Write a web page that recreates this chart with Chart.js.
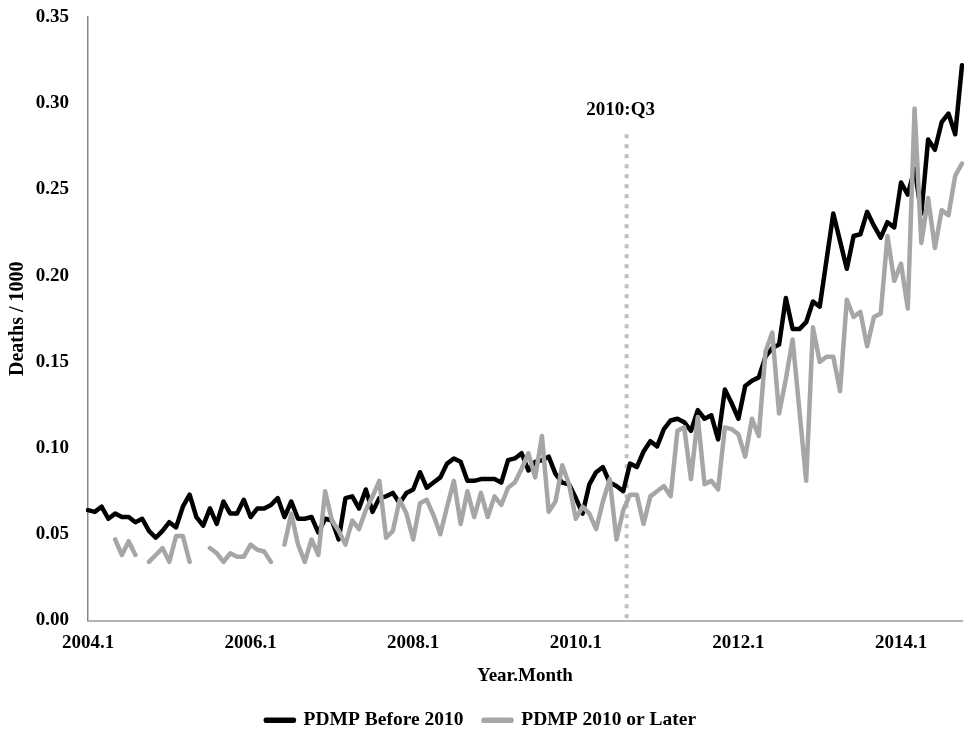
<!DOCTYPE html>
<html>
<head>
<meta charset="utf-8">
<script src="https://cdn.jsdelivr.net/npm/chart.js@4/dist/chart.umd.min.js"></script>
<style>
html,body{margin:0;padding:0;background:#fff;overflow:hidden}
#wrap{width:964px;height:734px;overflow:hidden;position:relative}
canvas{display:block}
</style>
</head>
<body>
<div id="wrap"><canvas id="c" width="964" height="740"></canvas></div>
<script>
// ---- categories ----
const years = [2004, 2005, 2006, 2007, 2008, 2009, 2010, 2011, 2012, 2013, 2014];
const months = [1, 2, 3, 4, 5, 6, 7, 8, 9, 10, 11, 12];
const lastMonthOfLastYear = 10;
const categories = [];
years.forEach(y => months.forEach(m => {
  if (y === years[years.length - 1] && m > lastMonthOfLastYear) return;
  categories.push(y + '.' + m);
}));
const tickLabels = ['2004.1', '2006.1', '2008.1', '2010.1', '2012.1', '2014.1'];
const yTicks = [0, 0.05, 0.10, 0.15, 0.20, 0.25, 0.30, 0.35];

// ---- series (Deaths / 1000) ----
const pdmpBefore2010 = [
  0.064, 0.063, 0.066, 0.059, 0.062, 0.060, 0.060, 0.057, 0.059, 0.052,
  0.048, 0.052, 0.057, 0.054, 0.066, 0.073, 0.060, 0.055, 0.065, 0.056,
  0.069, 0.062, 0.062, 0.070, 0.060, 0.065, 0.065, 0.067, 0.071, 0.060,
  0.069, 0.059, 0.059, 0.060, 0.051, 0.059, 0.058, 0.047, 0.071, 0.072,
  0.065, 0.076, 0.063, 0.071, 0.072, 0.074, 0.068, 0.074, 0.076, 0.086,
  0.077, 0.080, 0.083, 0.091, 0.094, 0.092, 0.081, 0.081, 0.082, 0.082,
  0.082, 0.080, 0.093, 0.094, 0.097, 0.087, 0.092, 0.093, 0.095, 0.085,
  0.080, 0.079, 0.071, 0.062, 0.079, 0.086, 0.089, 0.080, 0.078, 0.075,
  0.091, 0.089, 0.098, 0.104, 0.101, 0.111, 0.116, 0.117, 0.115, 0.110,
  0.122, 0.117, 0.119, 0.105, 0.134, 0.126, 0.117, 0.136, 0.139, 0.141,
  0.153, 0.158, 0.160, 0.187, 0.169, 0.169, 0.173, 0.185, 0.182, 0.209,
  0.236, 0.220, 0.204, 0.223, 0.224, 0.237, 0.229, 0.222, 0.231, 0.228,
  0.254, 0.247, 0.262, 0.236, 0.279, 0.273, 0.289, 0.294, 0.282, 0.322
];
const pdmp2010OrLater = [
  null, null, null, null, 0.047, 0.038, 0.046, 0.038, null, 0.034,
  0.038, 0.042, 0.034, 0.049, 0.049, 0.034, null, null, 0.042, 0.039,
  0.034, 0.039, 0.037, 0.037, 0.044, 0.041, 0.040, 0.034, null, 0.044,
  0.062, 0.044, 0.034, 0.047, 0.038, 0.075, 0.058, 0.052, 0.044, 0.058,
  0.053, 0.064, 0.072, 0.081, 0.048, 0.052, 0.070, 0.062, 0.047, 0.068,
  0.070, 0.061, 0.050, 0.066, 0.081, 0.056, 0.075, 0.060, 0.074, 0.060,
  0.072, 0.067, 0.077, 0.080, 0.088, 0.097, 0.083, 0.107, 0.063, 0.069,
  0.090, 0.079, 0.059, 0.066, 0.062, 0.053, 0.069, 0.082, 0.047, 0.064,
  0.073, 0.073, 0.056, 0.072, 0.075, 0.078, 0.072, 0.110, 0.112, 0.082,
  0.118, 0.079, 0.081, 0.076, 0.112, 0.111, 0.108, 0.095, 0.117, 0.107,
  0.156, 0.167, 0.120, 0.140, 0.163, 0.122, 0.081, 0.170, 0.150, 0.153,
  0.153, 0.133, 0.186, 0.176, 0.179, 0.159, 0.176, 0.178, 0.223, 0.197,
  0.207, 0.181, 0.297, 0.219, 0.245, 0.216, 0.238, 0.235, 0.258, 0.265
];

// ---- marker ----
const markerBetween = ['2010.8', '2010.9'];
const markerLabel = '2010:Q3';
const markerTopValue = 0.282;

const FONT = "'Liberation Serif', 'Times New Roman', serif";

const markerPlugin = {
  id: 'marker',
  beforeDatasetsDraw(chart) {
    const {ctx, scales: {x, y}} = chart;
    const a = x.getPixelForValue(categories.indexOf(markerBetween[0]));
    const b = x.getPixelForValue(categories.indexOf(markerBetween[1]));
    const px = (a + b) / 2;
    const top = y.getPixelForValue(markerTopValue);
    const bottom = y.getPixelForValue(0);
    ctx.save();
    ctx.strokeStyle = '#bfbfbf';
    ctx.lineWidth = 4;
    ctx.setLineDash([4, 6]);
    ctx.beginPath();
    ctx.moveTo(px, top);
    ctx.lineTo(px, bottom);
    ctx.stroke();
    ctx.setLineDash([]);
    ctx.fillStyle = '#000';
    ctx.font = 'bold 19px ' + FONT;
    ctx.textAlign = 'center';
    ctx.textBaseline = 'middle';
    ctx.fillText(markerLabel, px - 6, top - 24);
    ctx.restore();
  }
};

new Chart(document.getElementById('c'), {
  type: 'line',
  data: {
    labels: categories,
    datasets: [
      {
        label: 'PDMP Before 2010',
        data: pdmpBefore2010,
        borderColor: '#000000',
        backgroundColor: '#000000',
        borderWidth: 4.5,
        pointRadius: 0,
        tension: 0,
        borderJoinStyle: 'round',
        borderCapStyle: 'round',
        order: 1
      },
      {
        label: 'PDMP 2010 or Later',
        data: pdmp2010OrLater,
        borderColor: '#a6a6a6',
        backgroundColor: '#a6a6a6',
        borderWidth: 4.5,
        pointRadius: 0,
        tension: 0,
        spanGaps: false,
        borderJoinStyle: 'round',
        borderCapStyle: 'round',
        order: 0
      }
    ]
  },
  options: {
    responsive: false,
    animation: false,
    devicePixelRatio: 1,
    layout: {padding: {top: 17, right: 2, left: 0, bottom: 0}},
    plugins: {
      tooltip: {enabled: false},
      legend: {
        position: 'bottom',
        labels: {
          boxWidth: 28,
          boxHeight: 1,
          padding: 20,
          color: '#000',
          font: {family: FONT, size: 19.5, weight: 'bold'},
          sort: (a, b) => a.datasetIndex - b.datasetIndex
        }
      }
    },
    scales: {
      x: {
        type: 'category',
        offset: false,
        grid: {display: false, drawTicks: false},
        border: {display: true, color: '#b3b3b3', width: 2},
        ticks: {
          autoSkip: false,
          maxRotation: 0,
          minRotation: 0,
          padding: 11,
          color: '#000',
          font: {family: FONT, size: 19, weight: 'bold'},
          callback: function (v) {
            const l = this.getLabelForValue(v);
            return tickLabels.includes(l) ? l : '';
          }
        },
        title: {
          display: true,
          text: 'Year.Month',
          color: '#000',
          font: {family: FONT, size: 19, weight: 'bold'},
          padding: {top: 0, bottom: 3}
        },
        afterFit(s) { s.height = 70; s.paddingRight = 0; s.paddingTop = 0; s.paddingBottom = 0; }
      },
      y: {
        min: 0,
        max: 0.35,
        afterBuildTicks(s) { s.ticks = yTicks.map(v => ({value: v})); },
        grid: {display: false, drawTicks: false},
        border: {display: true, color: '#888888', width: 1.5},
        ticks: {
          padding: 19,
          color: '#000',
          font: {family: FONT, size: 19, weight: 'bold'},
          callback: v => Number(v).toFixed(2)
        },
        title: {
          display: true,
          text: 'Deaths / 1000',
          color: '#000',
          font: {family: FONT, size: 20, weight: 'bold'},
          padding: {top: 6, bottom: 0}
        },
        afterFit(s) { s.width = 88; s.paddingTop = 0; s.paddingBottom = 0; }
      }
    }
  },
  plugins: [markerPlugin]
});
</script>
</body>
</html>
